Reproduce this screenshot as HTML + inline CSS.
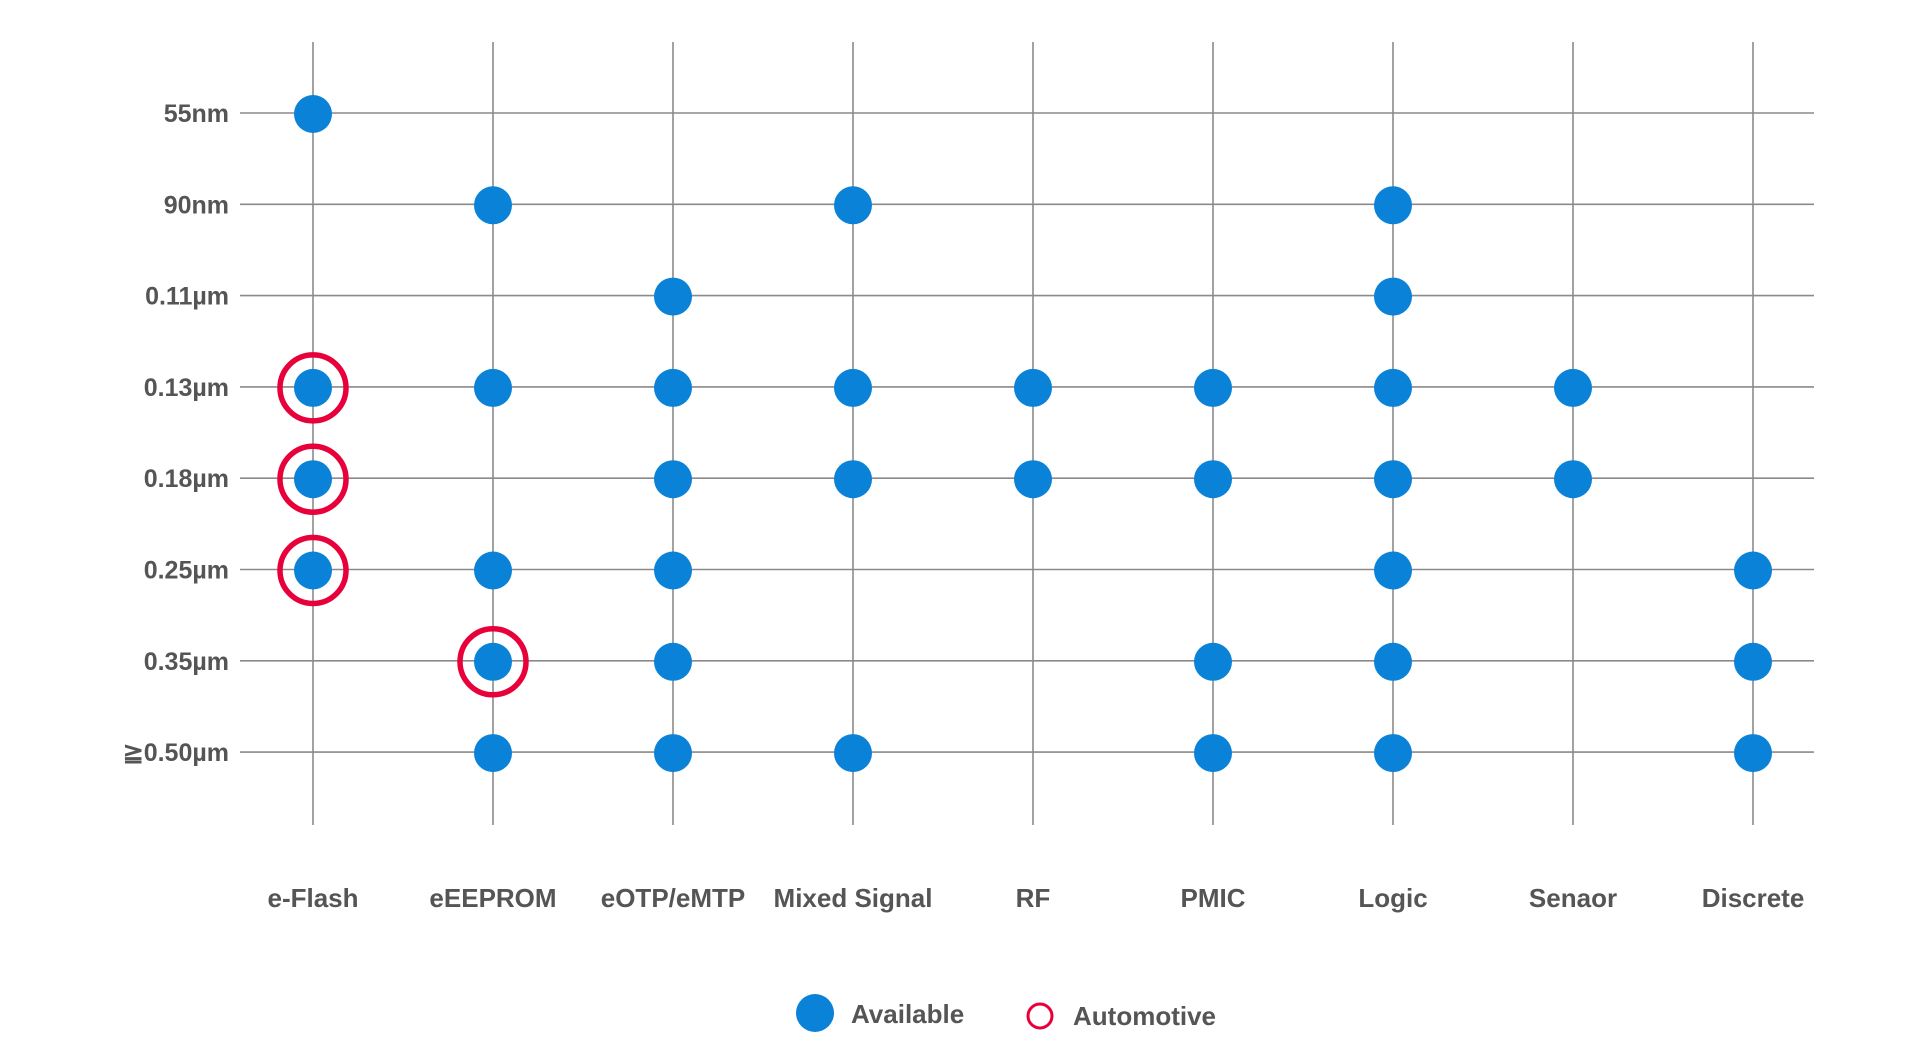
<!DOCTYPE html>
<html><head><meta charset="utf-8"><style>
html,body{margin:0;padding:0;background:#fff;}
svg{display:block;font-family:"Liberation Sans",sans-serif;}
</style></head><body>
<svg id="chart" width="1920" height="1061" viewBox="0 0 1920 1061"></svg>
<script>
const categories = ["e-Flash","eEEPROM","eOTP/eMTP","Mixed Signal","RF","PMIC","Logic","Senaor","Discrete"];
const nodes = ["55nm","90nm","0.11µm","0.13µm","0.18µm","0.25µm","0.35µm","≧0.50µm"];
const availableCat = [0,0,0,0, 1,1,1,1,1, 2,2,2,2,2,2, 3,3,3,3, 4,4, 5,5,5,5, 6,6,6,6,6,6,6, 7,7, 8,8,8];
const availableNode = [0,3,4,5, 1,3,5,6,7, 2,3,4,5,6,7, 1,3,4,7, 3,4, 3,4,6,7, 1,2,3,4,5,6,7, 3,4, 5,6,7];
const automotiveCat = [0,0,0,1];
const automotiveNode = [3,4,5,6];

const NS="http://www.w3.org/2000/svg";
const svg=document.getElementById('chart');
const xLeft=313, xStep=180, yTop=113, yStep=91.3;
function xScale(i){return xLeft+i*xStep;}
function yScale(i){return yTop+i*yStep;}
function mk(tag,attrs){const e=document.createElementNS(NS,tag);for(const k in attrs)e.setAttribute(k,attrs[k]);svg.appendChild(e);return e;}

nodes.forEach((n,i)=>{
  const l=mk('line',{x1:240,x2:1814,y1:yScale(i),y2:yScale(i),stroke:'#8a8a8a','stroke-width':1.6});
  
  
  const t=mk('text',{x:229,y:yScale(i)+9,'text-anchor':'end','font-size':25,'font-weight':'bold',fill:'#555'});
  t.textContent=n;
  
  
});
categories.forEach((c,i)=>{
  const l=mk('line',{x1:xScale(i),x2:xScale(i),y1:42,y2:825,stroke:'#8a8a8a','stroke-width':1.6});
  
  
  const t=mk('text',{x:xScale(i),y:907,'text-anchor':'middle','font-size':26,'font-weight':'bold',fill:'#555'});
  t.textContent=c;
  
  
});
availableCat.forEach((c,k)=>{
  const d=mk('circle',{cx:xScale(c),cy:yScale(availableNode[k])+1,r:19,fill:'#0a82d8'});
  
  
});
automotiveCat.forEach((c,k)=>{
  const d=mk('circle',{cx:xScale(c),cy:yScale(automotiveNode[k])+1,r:33,fill:'none',stroke:'#e8003a','stroke-width':5.5});
  
  
});
// legend
const lg1=mk('circle',{cx:815,cy:1013,r:19,fill:'#0a82d8'});


const lt1=mk('text',{x:851,y:1023,'font-size':26,'font-weight':'bold',fill:'#555'});
lt1.textContent='Available';


const lg2=mk('circle',{cx:1040,cy:1016,r:12,fill:'none',stroke:'#e8003a','stroke-width':3});


const lt2=mk('text',{x:1073,y:1025,'font-size':26,'font-weight':'bold',fill:'#555'});
lt2.textContent='Automotive';


</script>
</body></html>
